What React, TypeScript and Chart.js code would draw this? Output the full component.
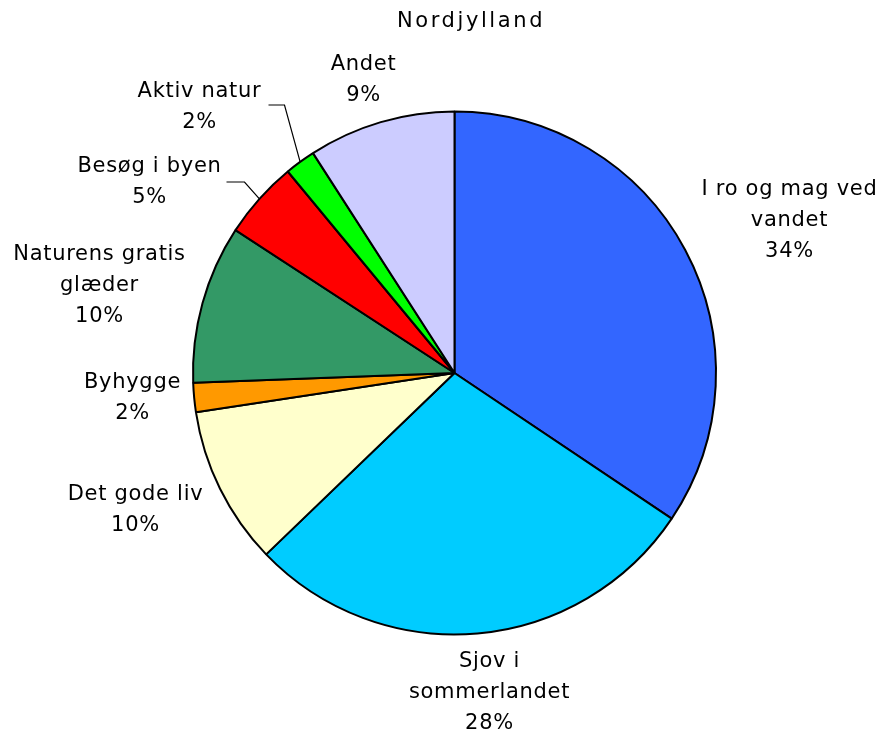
import React, { useEffect, useRef } from "react";
import { Chart, registerables } from "chart.js";

Chart.register(...registerables);

const title = "Nordjylland";
const categories = [
  "I ro og mag ved vandet",
  "Sjov i sommerlandet",
  "Det gode liv",
  "Byhygge",
  "Naturens gratis glæder",
  "Besøg i byen",
  "Aktiv natur",
  "Andet",
];
const values = [34.4, 28.4, 9.8, 1.8, 9.8, 4.8, 1.9, 9.1];
const colors = ["#3366FF", "#00CCFF", "#FFFFCC", "#FF9900", "#339966", "#FF0000", "#00FF00", "#CCCCFF"];
const labelLines = [
  ["I ro og mag ved", "vandet"],
  ["Sjov i", "sommerlandet"],
  ["Det gode liv"],
  ["Byhygge"],
  ["Naturens gratis", "glæder"],
  ["Besøg i byen"],
  ["Aktiv natur"],
  ["Andet"],
];

// layout: label block centre offsets from pie centre (px), first-line y offset
const labelLayout = [
  { dx: 335, dy: -183 },
  { dx: 35, dy: 289 },
  { dx: -319, dy: 122 },
  { dx: -322, dy: 10 },
  { dx: -355, dy: -118 },
  { dx: -305, dy: -206 },
  { dx: -255, dy: -281 },
  { dx: -91, dy: -308 },
];
// leader lines: [elbow dx, elbow dy, end dx, end dy] relative to pie centre
const leaders: (number[] | null)[] = [null, null, null, null, null, [-210, -191, -228, -191], [-170, -268, -186, -268], null];

const FONT = '21px "DejaVu Sans"';
const LINE_H = 31;

const labelPlugin = {
  id: "outLabels",
  afterDraw(chart: any) {
    const ctx = chart.ctx as CanvasRenderingContext2D;
    const meta = chart.getDatasetMeta(0);
    const arc0 = meta.data[0] as any;
    const cx = arc0.x;
    const cy = arc0.y;
    ctx.save();
    ctx.fillStyle = "#000";
    ctx.font = FONT;
    ctx.textAlign = "center";
    ctx.textBaseline = "middle";
    (ctx as any).letterSpacing = "2.6px";
    ctx.fillText(title, chart.width / 2 + 27, 22);
    (ctx as any).letterSpacing = "0.7px";
    values.forEach((v, i) => {
      const lay = labelLayout[i];
      const lines = [...labelLines[i], Math.round(v) + "%"];
      lines.forEach((t, j) => {
        ctx.fillText(t, cx + lay.dx, cy + lay.dy + j * LINE_H);
      });
      const ld = leaders[i];
      if (ld) {
        const a = meta.data[i] as any;
        const mid = (a.startAngle + a.endAngle) / 2;
        const px = a.x + Math.cos(mid) * a.outerRadius;
        const py = a.y + Math.sin(mid) * a.outerRadius;
        ctx.beginPath();
        ctx.strokeStyle = "#000";
        ctx.lineWidth = 1.2;
        ctx.moveTo(px, py);
        ctx.lineTo(cx + ld[0], cy + ld[1]);
        ctx.lineTo(cx + ld[2], cy + ld[3]);
        ctx.stroke();
      }
    });
    ctx.restore();
  },
};

export default function App() {
  const ref = useRef<HTMLCanvasElement | null>(null);
  useEffect(() => {
    document.body.style.margin = "0";
    const chart = new Chart(ref.current as HTMLCanvasElement, {
      type: "pie",
      data: {
        labels: categories,
        datasets: [
          {
            data: values,
            backgroundColor: colors,
            borderColor: "#000",
            borderWidth: 2,
          },
        ],
      },
      options: {
        animation: false,
        responsive: false,
        maintainAspectRatio: false,
        layout: { padding: { left: 192, right: 171, top: 110, bottom: 97 } },
        plugins: { legend: { display: false }, tooltip: { enabled: false }, title: { display: false } },
      },
      plugins: [labelPlugin],
    });
    return () => chart.destroy();
  }, []);
  return (
    <div style={{ width: 888, height: 733, background: "#fff" }}>
      <canvas ref={ref} width={888} height={733} />
    </div>
  );
}
